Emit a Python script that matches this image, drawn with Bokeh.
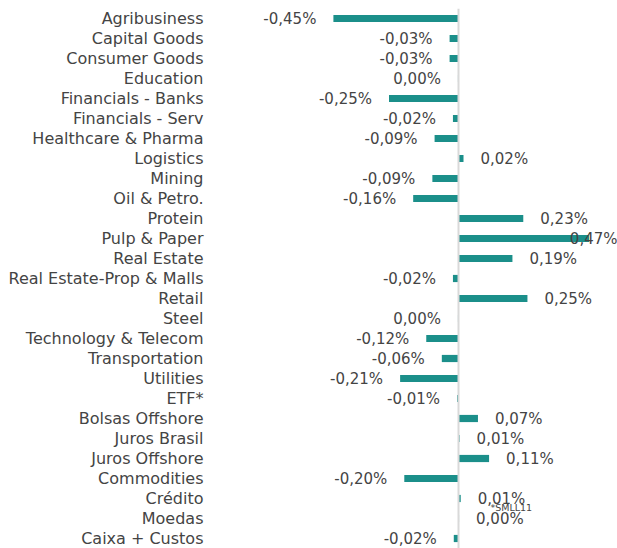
from bokeh.plotting import figure
from bokeh.models import Span, FactorRange
from bokeh.embed import file_html
from bokeh.resources import INLINE
from bokeh.core.properties import value

categories = [
    "Agribusiness", "Capital Goods", "Consumer Goods", "Education",
    "Financials - Banks", "Financials - Serv", "Healthcare & Pharma",
    "Logistics", "Mining", "Oil & Petro.", "Protein", "Pulp & Paper",
    "Real Estate", "Real Estate-Prop & Malls", "Retail", "Steel",
    "Technology & Telecom", "Transportation", "Utilities", "ETF*",
    "Bolsas Offshore", "Juros Brasil", "Juros Offshore", "Commodities",
    "Crédito", "Moedas", "Caixa + Custos",
]
values = [
    -0.45, -0.032, -0.032, -0.002,
    -0.25, -0.02, -0.086,
    0.018, -0.094, -0.163, 0.233, 0.47,
    0.194, -0.02, 0.248, -0.002,
    -0.116, -0.06, -0.21, -0.005,
    0.07, 0.004, 0.11, -0.195,
    0.008, 0.002, -0.017,
]
labels = [
    "-0,45%", "-0,03%", "-0,03%", "0,00%",
    "-0,25%", "-0,02%", "-0,09%",
    "0,02%", "-0,09%", "-0,16%", "0,23%", "0,47%",
    "0,19%", "-0,02%", "0,25%", "0,00%",
    "-0,12%", "-0,06%", "-0,21%", "-0,01%",
    "0,07%", "0,01%", "0,11%", "-0,20%",
    "0,01%", "0,00%", "-0,02%",
]
note_category = "Crédito"
note_text = "*SMLL11"

FONT = "DejaVu Sans"
CAT_FONT_SIZE = "16px"
VAL_FONT_SIZE = "15px"
TEXT_COLOR = "#444444"
BAR_COLOR = "#1b8f8a"

W, H = 617, 548
LEFT = 210
ZERO_PX = 458
PX_PER_UNIT = 278.0
x_min = -(ZERO_PX - LEFT) / PX_PER_UNIT
x_max = (W - ZERO_PX) / PX_PER_UNIT

p = figure(
    width=W, height=H,
    y_range=FactorRange(*reversed(categories)),
    x_range=(x_min, x_max),
    x_axis_location=None,
    output_backend="svg", toolbar_location=None,
    min_border_left=LEFT, min_border_right=0,
    min_border_top=8, min_border_bottom=0,
)
p.outline_line_color = None
p.xgrid.visible = False
p.ygrid.visible = False
p.background_fill_color = "white"
p.border_fill_color = "white"

ax = p.yaxis[0]
ax.axis_line_color = None
ax.major_tick_line_color = None
ax.minor_tick_line_color = None
ax.major_tick_out = 0
ax.major_tick_in = 0
ax.major_label_standoff = 7
ax.major_label_text_font = FONT
ax.major_label_text_font_size = CAT_FONT_SIZE
ax.major_label_text_color = TEXT_COLOR

p.hbar(y=categories, left=0, right=values, height=0.36,
       fill_color=BAR_COLOR, line_color=None)

p.add_layout(Span(location=0, dimension="height",
                  line_color="#d9d9d9", line_width=2))

OFF = 17
LABEL_W = 50
pos_x, pos_y, pos_t = [], [], []
neg_x, neg_y, neg_t = [], [], []
clip_x, clip_y, clip_t = [], [], []
for c, v, t in zip(categories, values, labels):
    if v >= 0:
        if v * PX_PER_UNIT + OFF + LABEL_W > (W - ZERO_PX):
            clip_x.append(x_max); clip_y.append(c); clip_t.append(t)
        else:
            pos_x.append(v); pos_y.append(c); pos_t.append(t)
    else:
        neg_x.append(v); neg_y.append(c); neg_t.append(t)

common = dict(text_font=value(FONT), text_font_size=VAL_FONT_SIZE,
              text_color=TEXT_COLOR, text_baseline="middle")
p.text(x=pos_x, y=pos_y, text=pos_t, x_offset=OFF, text_align="left", **common)
p.text(x=neg_x, y=neg_y, text=neg_t, x_offset=-OFF, text_align="right", **common)
p.text(x=clip_x, y=clip_y, text=clip_t, x_offset=0, text_align="right", **common)

p.text(x=[0], y=[note_category], text=[note_text], x_offset=32, y_offset=9,
       text_font=value(FONT), text_font_size="9.5px", text_color=TEXT_COLOR,
       text_baseline="middle", text_align="left")

open("out.html", "w").write(file_html(p, INLINE))
